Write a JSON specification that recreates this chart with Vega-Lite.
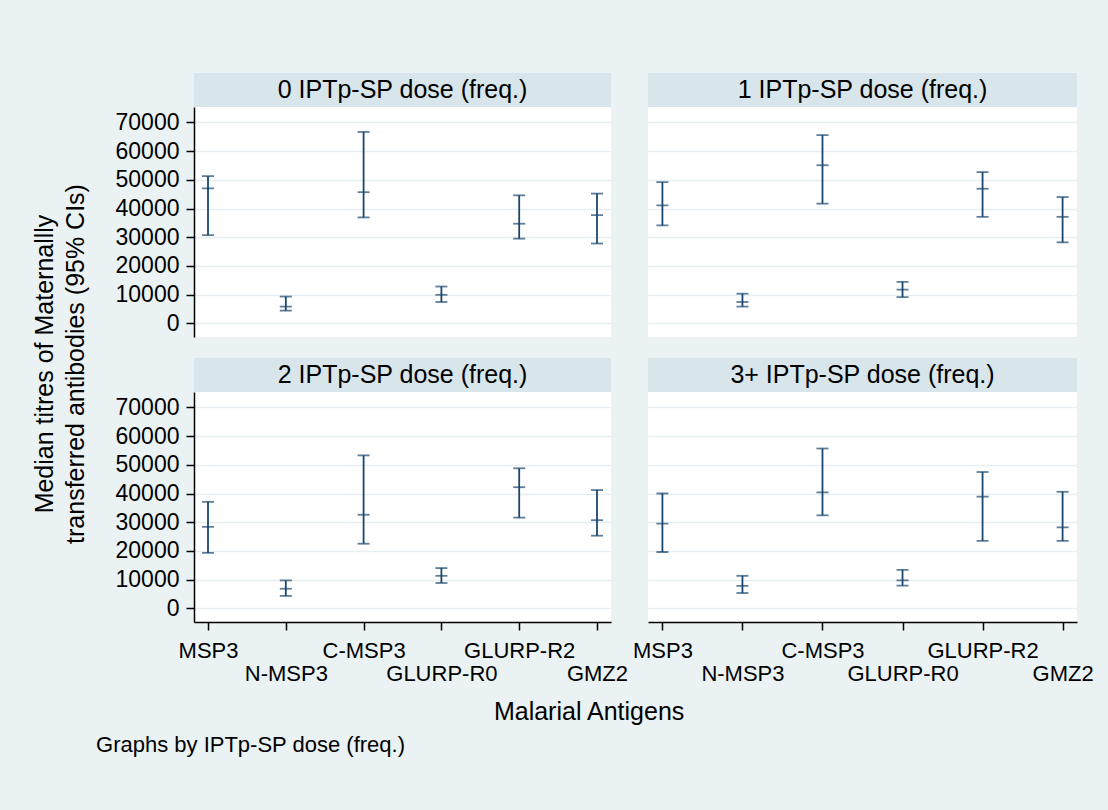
{
  "$schema": "https://vega.github.io/schema/vega-lite/v6.json",
  "background": "#eaf2f3",
  "padding": {"left": 33, "top": 73, "right": 17, "bottom": 54},
  "datasets": {
    "ci": [
      {"dose": "0", "antigen": "MSP3", "lo": 30700, "med": 47000, "hi": 51300},
      {"dose": "0", "antigen": "N-MSP3", "lo": 4400, "med": 5800, "hi": 9300},
      {"dose": "0", "antigen": "C-MSP3", "lo": 36900, "med": 45700, "hi": 66700},
      {"dose": "0", "antigen": "GLURP-R0", "lo": 7400, "med": 9900, "hi": 12800},
      {"dose": "0", "antigen": "GLURP-R2", "lo": 29500, "med": 34700, "hi": 44600},
      {"dose": "0", "antigen": "GMZ2", "lo": 27800, "med": 37700, "hi": 45200},
      {"dose": "1", "antigen": "MSP3", "lo": 34100, "med": 41100, "hi": 49200},
      {"dose": "1", "antigen": "N-MSP3", "lo": 5800, "med": 7400, "hi": 10300},
      {"dose": "1", "antigen": "C-MSP3", "lo": 41700, "med": 55100, "hi": 65600},
      {"dose": "1", "antigen": "GLURP-R0", "lo": 9100, "med": 11700, "hi": 14400},
      {"dose": "1", "antigen": "GLURP-R2", "lo": 37100, "med": 46900, "hi": 52700},
      {"dose": "1", "antigen": "GMZ2", "lo": 28200, "med": 37100, "hi": 44000},
      {"dose": "2", "antigen": "MSP3", "lo": 19300, "med": 28400, "hi": 37100},
      {"dose": "2", "antigen": "N-MSP3", "lo": 4300, "med": 6800, "hi": 9700},
      {"dose": "2", "antigen": "C-MSP3", "lo": 22500, "med": 32600, "hi": 53300},
      {"dose": "2", "antigen": "GLURP-R0", "lo": 8800, "med": 11300, "hi": 14000},
      {"dose": "2", "antigen": "GLURP-R2", "lo": 31600, "med": 42200, "hi": 48800},
      {"dose": "2", "antigen": "GMZ2", "lo": 25300, "med": 30700, "hi": 41200},
      {"dose": "3+", "antigen": "MSP3", "lo": 19600, "med": 29500, "hi": 40000},
      {"dose": "3+", "antigen": "N-MSP3", "lo": 5300, "med": 7800, "hi": 11300},
      {"dose": "3+", "antigen": "C-MSP3", "lo": 32400, "med": 40400, "hi": 55700},
      {"dose": "3+", "antigen": "GLURP-R0", "lo": 7900, "med": 9700, "hi": 13400},
      {"dose": "3+", "antigen": "GLURP-R2", "lo": 23500, "med": 38900, "hi": 47500},
      {"dose": "3+", "antigen": "GMZ2", "lo": 23500, "med": 28200, "hi": 40600}
    ],
    "panels": [
      {"dose": "0", "label": "0 IPTp-SP dose (freq.)"},
      {"dose": "1", "label": "1 IPTp-SP dose (freq.)"},
      {"dose": "2", "label": "2 IPTp-SP dose (freq.)"},
      {"dose": "3+", "label": "3+ IPTp-SP dose (freq.)"}
    ]
  },
  "title": {
    "text": "Graphs by IPTp-SP dose (freq.)",
    "orient": "bottom",
    "anchor": "start",
    "fontSize": 22,
    "fontWeight": "normal",
    "font": "Liberation Sans",
    "color": "#000000",
    "offset": 10,
    "dx": 63
  },
  "config": {
    "font": "Liberation Sans",
    "view": {"stroke": null},
    "axis": {
      "labelFont": "Liberation Sans",
      "titleFont": "Liberation Sans",
      "labelColor": "#000000",
      "titleColor": "#000000",
      "titleFontWeight": "normal",
      "domainColor": "#000000",
      "domainWidth": 1.5,
      "tickColor": "#000000",
      "tickWidth": 1.5,
      "tickSize": 8,
      "gridColor": "#e6eef1",
      "gridWidth": 1.5
    },
    "tick": {"color": "#1a476f", "thickness": 1.8, "size": 12},
    "rule": {"color": "#1a476f", "strokeWidth": 1.8}
  },
  "vconcat": [
    {
      "title": {
        "text": ["Median titres of Maternallly", "transferred antibodies (95% CIs)"],
        "orient": "left",
        "anchor": "middle",
        "fontSize": 25,
        "lineHeight": 31,
        "fontWeight": "normal",
        "font": "Liberation Sans",
        "color": "#000000",
        "offset": 26,
        "dx": 35
      },
      "spacing": 21,
      "vconcat": [
        {
          "spacing": 0,
          "vconcat": [
            {
              "bounds": "flush",
              "spacing": 37,
              "hconcat": [
                {
                  "data": {"name": "panels"},
                  "transform": [{"filter": "datum.dose === '0'"}],
                  "width": 417,
                  "height": 34,
                  "view": {"fill": "#d8e5ea", "stroke": null},
                  "mark": {"type": "text", "fontSize": 25, "baseline": "middle", "align": "center", "color": "#000000"},
                  "encoding": {"text": {"field": "label", "type": "nominal"}}
                },
                {
                  "data": {"name": "panels"},
                  "transform": [{"filter": "datum.dose === '1'"}],
                  "width": 429,
                  "height": 34,
                  "view": {"fill": "#d8e5ea", "stroke": null},
                  "mark": {"type": "text", "fontSize": 25, "baseline": "middle", "align": "center", "color": "#000000"},
                  "encoding": {"text": {"field": "label", "type": "nominal"}}
                }
              ]
            },
            {
              "bounds": "flush",
              "spacing": 37,
              "hconcat": [
                {
                  "data": {"name": "ci"},
                  "transform": [{"filter": "datum.dose === '0'"}],
                  "width": 417,
                  "height": 230,
                  "view": {"fill": "#ffffff", "stroke": null},
                  "encoding": {
                    "x": {"field": "antigen", "type": "nominal", "scale": {"type": "point", "padding": 0.18, "domain": ["MSP3", "N-MSP3", "C-MSP3", "GLURP-R0", "GLURP-R2", "GMZ2"]}, "axis": null}
                  },
                  "layer": [
                    {"mark": {"type": "rule"}, "encoding": {
                      "y": {"field": "lo", "type": "quantitative", "scale": {"domain": [-4800, 75400], "nice": false, "zero": false},
                        "axis": {"values": [0, 10000, 20000, 30000, 40000, 50000, 60000, 70000], "format": "d", "labelFontSize": 23, "labelPadding": 7, "grid": true, "title": null}},
                      "y2": {"field": "hi"}}},
                    {"mark": {"type": "tick"}, "encoding": {"y": {"field": "lo", "type": "quantitative", "scale": {"domain": [-4800, 75400], "nice": false, "zero": false},
                        "axis": {"values": [0, 10000, 20000, 30000, 40000, 50000, 60000, 70000], "format": "d", "labelFontSize": 23, "labelPadding": 7, "grid": true, "title": null}}}},
                    {"mark": {"type": "tick"}, "encoding": {"y": {"field": "med", "type": "quantitative", "scale": {"domain": [-4800, 75400], "nice": false, "zero": false},
                        "axis": {"values": [0, 10000, 20000, 30000, 40000, 50000, 60000, 70000], "format": "d", "labelFontSize": 23, "labelPadding": 7, "grid": true, "title": null}}}},
                    {"mark": {"type": "tick"}, "encoding": {"y": {"field": "hi", "type": "quantitative", "scale": {"domain": [-4800, 75400], "nice": false, "zero": false},
                        "axis": {"values": [0, 10000, 20000, 30000, 40000, 50000, 60000, 70000], "format": "d", "labelFontSize": 23, "labelPadding": 7, "grid": true, "title": null}}}}
                  ]
                },
                {
                  "data": {"name": "ci"},
                  "transform": [{"filter": "datum.dose === '1'"}],
                  "width": 429,
                  "height": 230,
                  "view": {"fill": "#ffffff", "stroke": null},
                  "encoding": {
                    "x": {"field": "antigen", "type": "nominal", "scale": {"type": "point", "padding": 0.18, "domain": ["MSP3", "N-MSP3", "C-MSP3", "GLURP-R0", "GLURP-R2", "GMZ2"]}, "axis": null}
                  },
                  "layer": [
                    {"mark": {"type": "rule"}, "encoding": {
                      "y": {"field": "lo", "type": "quantitative", "scale": {"domain": [-4800, 75400], "nice": false, "zero": false},
                        "axis": {"values": [0, 10000, 20000, 30000, 40000, 50000, 60000, 70000], "labels": false, "ticks": false, "domain": false, "grid": true, "title": null}},
                      "y2": {"field": "hi"}}},
                    {"mark": {"type": "tick"}, "encoding": {"y": {"field": "lo", "type": "quantitative", "scale": {"domain": [-4800, 75400], "nice": false, "zero": false},
                        "axis": {"values": [0, 10000, 20000, 30000, 40000, 50000, 60000, 70000], "labels": false, "ticks": false, "domain": false, "grid": true, "title": null}}}},
                    {"mark": {"type": "tick"}, "encoding": {"y": {"field": "med", "type": "quantitative", "scale": {"domain": [-4800, 75400], "nice": false, "zero": false},
                        "axis": {"values": [0, 10000, 20000, 30000, 40000, 50000, 60000, 70000], "labels": false, "ticks": false, "domain": false, "grid": true, "title": null}}}},
                    {"mark": {"type": "tick"}, "encoding": {"y": {"field": "hi", "type": "quantitative", "scale": {"domain": [-4800, 75400], "nice": false, "zero": false},
                        "axis": {"values": [0, 10000, 20000, 30000, 40000, 50000, 60000, 70000], "labels": false, "ticks": false, "domain": false, "grid": true, "title": null}}}}
                  ]
                }
              ]
            }
          ]
        },
        {
          "spacing": 0,
          "vconcat": [
            {
              "bounds": "flush",
              "spacing": 37,
              "hconcat": [
                {
                  "data": {"name": "panels"},
                  "transform": [{"filter": "datum.dose === '2'"}],
                  "width": 417,
                  "height": 34,
                  "view": {"fill": "#d8e5ea", "stroke": null},
                  "mark": {"type": "text", "fontSize": 25, "baseline": "middle", "align": "center", "color": "#000000"},
                  "encoding": {"text": {"field": "label", "type": "nominal"}}
                },
                {
                  "data": {"name": "panels"},
                  "transform": [{"filter": "datum.dose === '3+'"}],
                  "width": 429,
                  "height": 34,
                  "view": {"fill": "#d8e5ea", "stroke": null},
                  "mark": {"type": "text", "fontSize": 25, "baseline": "middle", "align": "center", "color": "#000000"},
                  "encoding": {"text": {"field": "label", "type": "nominal"}}
                }
              ]
            },
            {
              "bounds": "flush",
              "spacing": 37,
              "title": {
                "text": "Malarial Antigens",
                "orient": "bottom",
                "anchor": "middle",
                "fontSize": 25,
                "fontWeight": "normal",
                "font": "Liberation Sans",
                "color": "#000000",
                "offset": 16,
                "dx": -15
              },
              "hconcat": [
                {
                  "data": {"name": "ci"},
                  "transform": [{"filter": "datum.dose === '2'"}],
                  "width": 417,
                  "height": 230,
                  "view": {"fill": "#ffffff", "stroke": null},
                  "encoding": {
                    "x": {"field": "antigen", "type": "nominal", "scale": {"type": "point", "padding": 0.18, "domain": ["MSP3", "N-MSP3", "C-MSP3", "GLURP-R0", "GLURP-R2", "GMZ2"]},
                      "axis": {"labelAngle": 0, "labelFontSize": 22, "grid": false,
                        "labelPadding": {"condition": {"test": "indexof(['N-MSP3','GLURP-R0','GMZ2'], datum.value) >= 0", "value": 33}, "value": 10},
                        "title": null}}
                  },
                  "layer": [
                    {"mark": {"type": "rule"}, "encoding": {
                      "y": {"field": "lo", "type": "quantitative", "scale": {"domain": [-4800, 75400], "nice": false, "zero": false},
                        "axis": {"values": [0, 10000, 20000, 30000, 40000, 50000, 60000, 70000], "format": "d", "labelFontSize": 23, "labelPadding": 7, "grid": true, "title": null}},
                      "y2": {"field": "hi"}}},
                    {"mark": {"type": "tick"}, "encoding": {"y": {"field": "lo", "type": "quantitative", "scale": {"domain": [-4800, 75400], "nice": false, "zero": false},
                        "axis": {"values": [0, 10000, 20000, 30000, 40000, 50000, 60000, 70000], "format": "d", "labelFontSize": 23, "labelPadding": 7, "grid": true, "title": null}}}},
                    {"mark": {"type": "tick"}, "encoding": {"y": {"field": "med", "type": "quantitative", "scale": {"domain": [-4800, 75400], "nice": false, "zero": false},
                        "axis": {"values": [0, 10000, 20000, 30000, 40000, 50000, 60000, 70000], "format": "d", "labelFontSize": 23, "labelPadding": 7, "grid": true, "title": null}}}},
                    {"mark": {"type": "tick"}, "encoding": {"y": {"field": "hi", "type": "quantitative", "scale": {"domain": [-4800, 75400], "nice": false, "zero": false},
                        "axis": {"values": [0, 10000, 20000, 30000, 40000, 50000, 60000, 70000], "format": "d", "labelFontSize": 23, "labelPadding": 7, "grid": true, "title": null}}}}
                  ]
                },
                {
                  "data": {"name": "ci"},
                  "transform": [{"filter": "datum.dose === '3+'"}],
                  "width": 429,
                  "height": 230,
                  "view": {"fill": "#ffffff", "stroke": null},
                  "encoding": {
                    "x": {"field": "antigen", "type": "nominal", "scale": {"type": "point", "padding": 0.18, "domain": ["MSP3", "N-MSP3", "C-MSP3", "GLURP-R0", "GLURP-R2", "GMZ2"]},
                      "axis": {"labelAngle": 0, "labelFontSize": 22, "grid": false,
                        "labelPadding": {"condition": {"test": "indexof(['N-MSP3','GLURP-R0','GMZ2'], datum.value) >= 0", "value": 33}, "value": 10},
                        "title": null}}
                  },
                  "layer": [
                    {"mark": {"type": "rule"}, "encoding": {
                      "y": {"field": "lo", "type": "quantitative", "scale": {"domain": [-4800, 75400], "nice": false, "zero": false},
                        "axis": {"values": [0, 10000, 20000, 30000, 40000, 50000, 60000, 70000], "labels": false, "ticks": false, "domain": false, "grid": true, "title": null}},
                      "y2": {"field": "hi"}}},
                    {"mark": {"type": "tick"}, "encoding": {"y": {"field": "lo", "type": "quantitative", "scale": {"domain": [-4800, 75400], "nice": false, "zero": false},
                        "axis": {"values": [0, 10000, 20000, 30000, 40000, 50000, 60000, 70000], "labels": false, "ticks": false, "domain": false, "grid": true, "title": null}}}},
                    {"mark": {"type": "tick"}, "encoding": {"y": {"field": "med", "type": "quantitative", "scale": {"domain": [-4800, 75400], "nice": false, "zero": false},
                        "axis": {"values": [0, 10000, 20000, 30000, 40000, 50000, 60000, 70000], "labels": false, "ticks": false, "domain": false, "grid": true, "title": null}}}},
                    {"mark": {"type": "tick"}, "encoding": {"y": {"field": "hi", "type": "quantitative", "scale": {"domain": [-4800, 75400], "nice": false, "zero": false},
                        "axis": {"values": [0, 10000, 20000, 30000, 40000, 50000, 60000, 70000], "labels": false, "ticks": false, "domain": false, "grid": true, "title": null}}}}
                  ]
                }
              ]
            }
          ]
        }
      ]
    }
  ]
}
